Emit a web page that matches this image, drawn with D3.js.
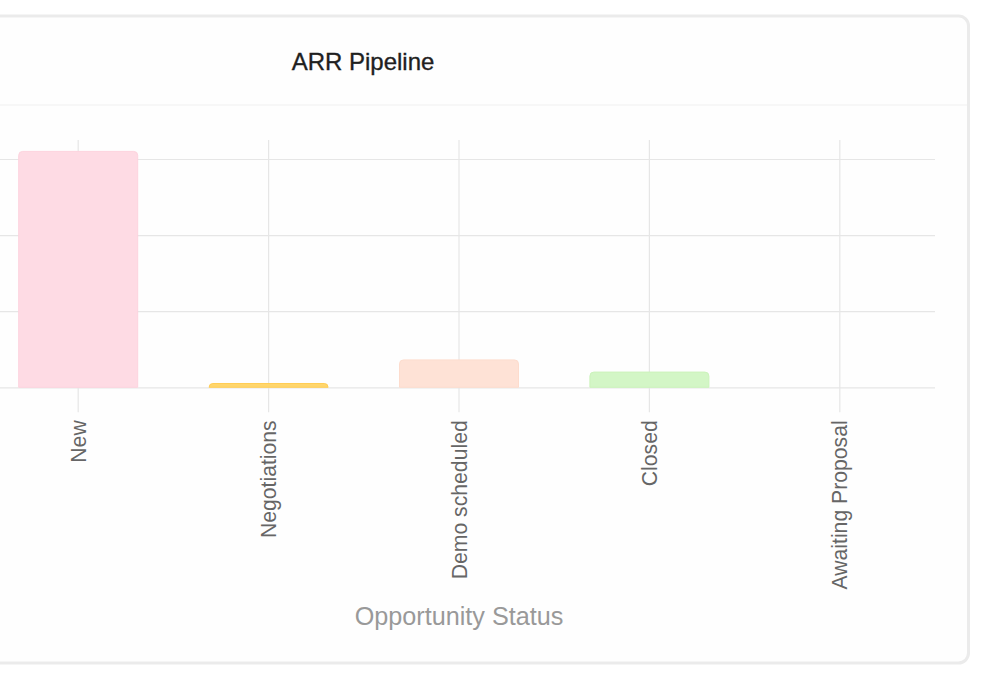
<!DOCTYPE html>
<html>
<head>
<meta charset="utf-8">
<script src="https://cdn.jsdelivr.net/npm/d3@7"></script>
<style>
  html, body { margin: 0; padding: 0; background: #ffffff; }
  svg { display: block; }
  text { font-family: "Liberation Sans", Arial, Helvetica, sans-serif; }
</style>
</head>
<body>
<svg id="chart" width="998" height="681"></svg>
<script>
// ---- data ----
const categories = ["New", "Negotiations", "Demo scheduled", "Closed", "Awaiting Proposal"];
const arrValues = [3100000, 50000, 360000, 200000, 0];
const yTicks = [0, 1000000, 2000000, 3000000];
const yMax = 3250000;
const barFills = ["#fedbe4", "#ffd66c", "#fee2d6", "#d3f6c6", "#dcdcf8"];
const barStrokes = ["#fdd3de", "#ffcd56", "#fddccd", "#cbf3bb", "#d0d0f5"];
const chartTitle = "ARR Pipeline";
const xTitle = "Opportunity Status";

// ---- layout ----
const svg = d3.select("#chart");
const card = { left: -243, top: 16, right: 968.5, bottom: 663 };
const plot = { left: -17, right: 935, top: 140, bottom: 387.3 };

svg.append("rect")
  .attr("x", card.left).attr("y", card.top)
  .attr("width", card.right - card.left).attr("height", card.bottom - card.top)
  .attr("rx", 10).attr("ry", 10)
  .attr("fill", "#fefefe").attr("stroke", "#ebebeb").attr("stroke-width", 3);

svg.append("line")
  .attr("x1", card.left).attr("x2", card.right - 1.5)
  .attr("y1", 105).attr("y2", 105)
  .attr("stroke", "#efefef").attr("stroke-width", 1.2);

svg.append("text")
  .attr("x", 363).attr("y", 70)
  .attr("text-anchor", "middle")
  .attr("font-size", 24)
  .attr("fill", "#1f1f1f")
  .attr("stroke", "#1f1f1f").attr("stroke-width", 0.35)
  .text(chartTitle);

const x = d3.scaleBand()
  .domain(categories)
  .range([plot.left, plot.right])
  .paddingInner(0.375)
  .paddingOuter(0.1875);

const y = d3.scaleLinear()
  .domain([0, yMax])
  .range([plot.bottom, plot.top]);

// horizontal gridlines
const yAxis = d3.axisLeft(y)
  .tickValues(yTicks)
  .tickSize(0)
  .tickFormat("");
const gy = svg.append("g")
  .attr("transform", `translate(${plot.left - 40},0)`)
  .call(yAxis);
gy.select(".domain").remove();
gy.selectAll(".tick line")
  .attr("stroke", "#e6e6e6").attr("stroke-width", 1.2)
  .attr("x1", 0).attr("x2", plot.right - plot.left + 40);

// vertical gridlines + x ticks
const xAxis = d3.axisBottom(x)
  .tickSize(plot.bottom - plot.top + 25)
  .tickPadding(8);
const gx = svg.append("g")
  .attr("transform", `translate(0,${plot.top})`)
  .call(xAxis);
gx.select(".domain").remove();
gx.selectAll(".tick line")
  .attr("stroke", "#e6e6e6").attr("stroke-width", 1.2);
gx.selectAll(".tick text")
  .attr("font-size", 21.2)
  .attr("fill", "#666666")
  .attr("text-anchor", "end")
  .attr("transform", function() {
    return `translate(0,${plot.bottom - plot.top + 33}) rotate(-90)`;
  })
  .attr("x", 0).attr("y", 0).attr("dy", "0.36em");

// bars with rounded top corners
function topRoundedPath(x0, y0, w, h, r) {
  r = Math.min(r, w / 2, h);
  const p = d3.path();
  p.moveTo(x0, y0 + h);
  p.lineTo(x0, y0 + r);
  p.arcTo(x0, y0, x0 + r, y0, r);
  p.lineTo(x0 + w - r, y0);
  p.arcTo(x0 + w, y0, x0 + w, y0 + r, r);
  p.lineTo(x0 + w, y0 + h);
  p.closePath();
  return p.toString();
}

const bars = categories.map((c, i) => ({ c, v: arrValues[i], i }));
svg.append("g").selectAll("path")
  .data(bars.filter(d => d.v > 0))
  .join("path")
  .attr("d", d => {
    const top = y(d.v), h = y(0) - top;
    return topRoundedPath(x(d.c), top, x.bandwidth(), h, 4);
  })
  .attr("fill", d => barFills[d.i])
  .attr("stroke", d => barStrokes[d.i])
  .attr("stroke-width", 1);

// axis title
svg.append("text")
  .attr("x", (plot.left + plot.right) / 2)
  .attr("y", 625)
  .attr("text-anchor", "middle")
  .attr("font-size", 25.2)
  .attr("fill", "#999999")
  .text(xTitle);
</script>
</body>
</html>
